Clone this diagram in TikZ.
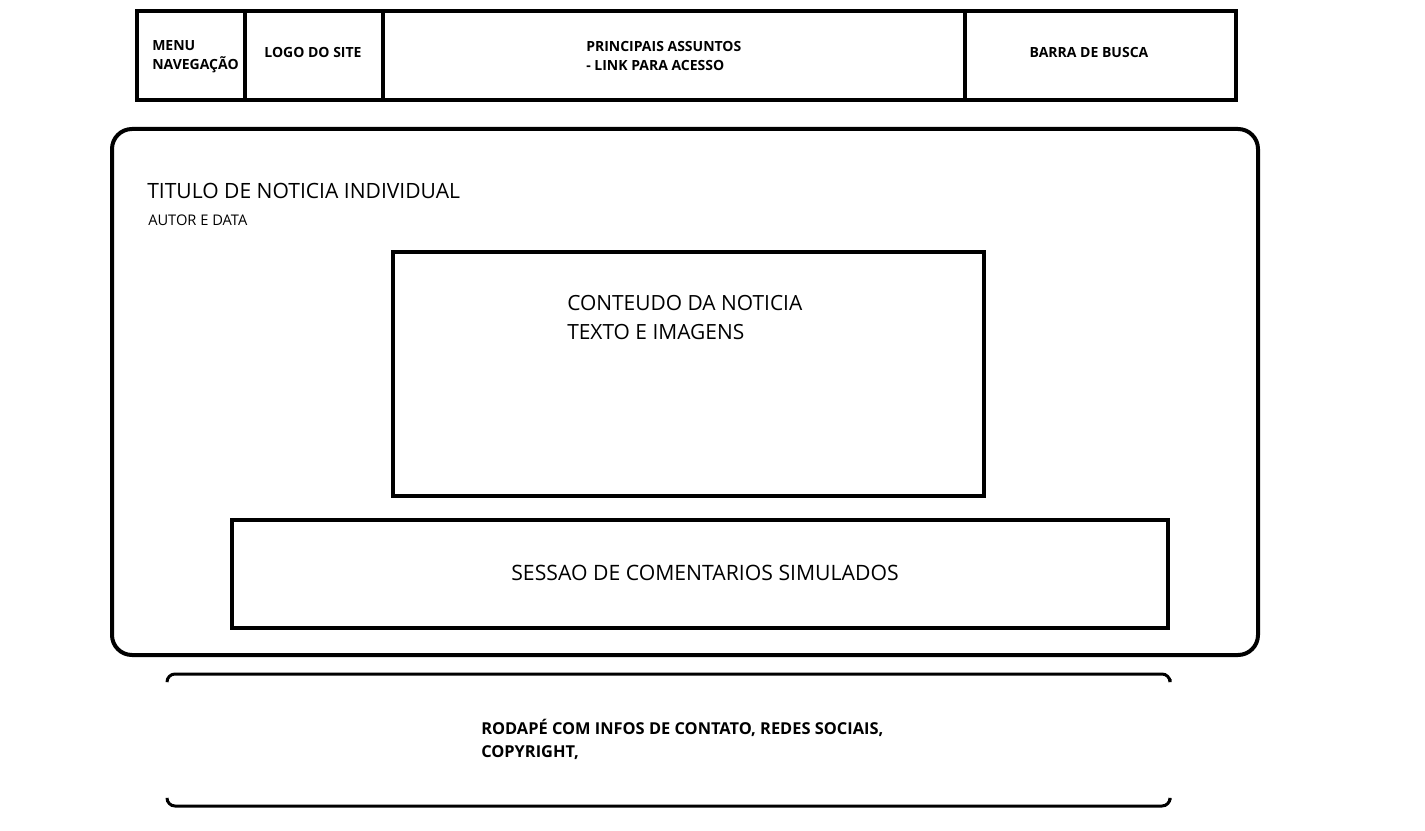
\documentclass[tikz,border=0pt]{standalone}
\usepackage{fontspec}
\setmainfont{Open Sans}
\usetikzlibrary{positioning}
\newcommand{\pxw}{0.75pt}

\begin{document}
\begin{tikzpicture}[x=0.75pt,y=-0.75pt,node distance=0mm,
  every node/.style={font=\small},
  box/.style={draw,rectangle,line width=3pt,outer sep=0pt,inner sep=0pt},
  cab/.style={font=\fontsize{10.5}{14}\selectfont\bfseries,align=left,inner sep=0pt}]
\useasboundingbox (0,0) rectangle (1425,831);

% cabecalho
\node[box,minimum width=108*\pxw,minimum height=89*\pxw] (menu) at (191,55.5) {};
\node[box,right=of menu,minimum width=138*\pxw,minimum height=89*\pxw] (logo) {};
\node[box,right=of logo,minimum width=582*\pxw,minimum height=89*\pxw] (assuntos) {};
\node[box,right=of assuntos,minimum width=271*\pxw,minimum height=89*\pxw] (busca) {};
\node[cab,anchor=west] (menutxt) at (152,56.5) {MENU\\NAVEGAÇÃO};
\node[cab] (logotxt) at (313,52) {LOGO DO SITE};
\node[cab,anchor=west] (assuntostxt) at (586,56) {PRINCIPAIS ASSUNTOS\\- LINK PARA ACESSO};
\node[cab] (buscatxt) at (1089,53) {BARRA DE BUSCA};

% pagina da noticia
\node[box,rounded corners=15pt,minimum width=1146*\pxw,minimum height=526*\pxw] (pagina) at (685,392) {};
\node[anchor=west,inner sep=0pt,font=\fontsize{15.8}{19}\selectfont] (titulo) at (147,191) {TITULO DE NOTICIA INDIVIDUAL};
\node[anchor=west,inner sep=0pt,font=\fontsize{11}{13}\selectfont] (autor) at (148,220) {AUTOR E DATA};

\node[box,minimum width=591*\pxw,minimum height=244*\pxw] (conteudo) at (688.5,374) {};
\node[anchor=west,inner sep=0pt,align=left,font=\fontsize{15.7}{21.75}\selectfont] (conteudotxt) at (567,317.5) {CONTEUDO DA NOTICIA\\TEXTO E IMAGENS};

\node[box,minimum width=936*\pxw,minimum height=108*\pxw] (comentarios) at (700,574) {};
\node[font=\fontsize{15.9}{19}\selectfont] (comentariostxt) at (705,573) {SESSAO DE COMENTARIOS SIMULADOS};

% rodape
\coordinate (rodNO) at (167,681);
\coordinate (rodNE) at (1170,679);
\coordinate (rodSO) at (167,799);
\coordinate (rodSE) at (1170,800);
\draw[line width=2.25pt,rounded corners=6pt] (rodNO) |- (rodNE |- 0,674) -- (rodNE);
\draw[line width=2.25pt,rounded corners=6pt] (rodSO) |- (rodSE |- 0,806) -- (rodSE);
\node[anchor=west,inner sep=0pt,align=left,font=\fontsize{12.3}{17.25}\selectfont\bfseries] (rodape) at (481,739.5) {RODAPÉ COM INFOS DE CONTATO, REDES SOCIAIS,\\COPYRIGHT,};
\end{tikzpicture}
\end{document}
